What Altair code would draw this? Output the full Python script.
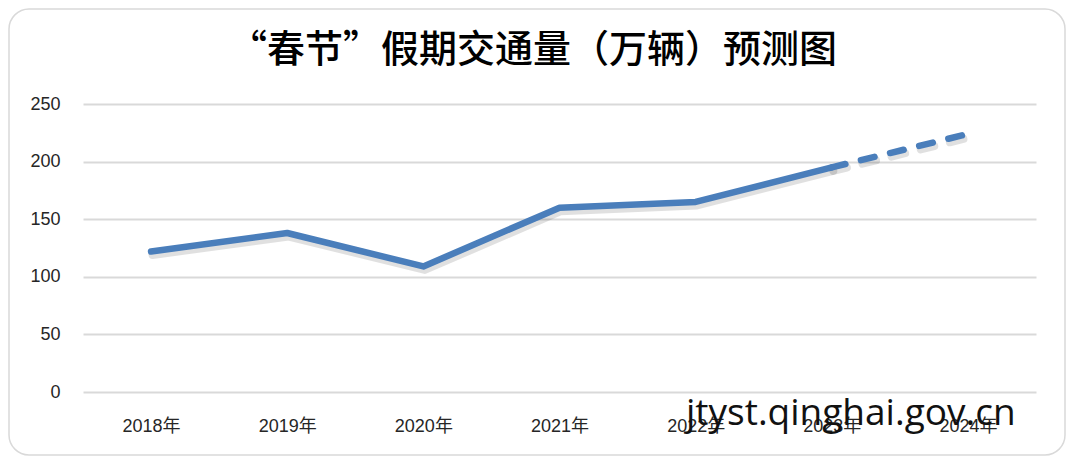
import altair as alt
import pandas as pd

years = ["2018年", "2019年", "2020年", "2021年", "2022年", "2023年", "2024年"]
volumes = [122, 138, 109, 160, 165, 195, 224]
y_ticks = [0, 50, 100, 150, 200, 250]
title_text = "“春节”假期交通量（万辆）预测图"
watermark = "jtyst.qinghai.gov.cn"

solid = pd.DataFrame({"year": years[:6], "v": volumes[:6]})
dashed = pd.DataFrame({"year": years[5:], "v": volumes[5:]})

x_enc = alt.X("year:N", sort=years, scale=alt.Scale(type="point", padding=0.5),
              axis=alt.Axis(title=None, labelAngle=0, domain=False, ticks=False, grid=False,
                            labelPadding=25, labelFontSize=18, labelColor="#262626",
                            labelFont="Liberation Sans, Noto Sans CJK SC"))
y_enc = alt.Y("v:Q", scale=alt.Scale(domain=[0, 250], nice=False),
              axis=alt.Axis(title=None, values=y_ticks, grid=True, gridColor="#d9d9d9",
                            gridWidth=2, domain=False, ticks=False, labelPadding=23,
                            labelFontSize=18, labelColor="#262626", labelFont="Liberation Sans"))

line_color = "#4a7ebb"

shadow_solid = alt.Chart(solid).mark_line(color="#000", opacity=0.12, strokeWidth=8,
                                          strokeCap="round", strokeJoin="round",
                                          xOffset=1.5, yOffset=3.5).encode(x=x_enc, y=y_enc)
shadow_dash = alt.Chart(dashed).mark_line(color="#000", opacity=0.12, strokeWidth=8,
                                          strokeCap="round", strokeDash=[14, 16],
                                          xOffset=1.5, yOffset=3.5).encode(x=x_enc, y=y_enc)
line_solid = alt.Chart(solid).mark_line(color=line_color, strokeWidth=6.5, strokeCap="round",
                                        strokeJoin="round").encode(x=x_enc, y=y_enc)
line_dash = alt.Chart(dashed).mark_line(color=line_color, strokeWidth=6.5, strokeCap="round",
                                        strokeDash=[14, 16]).encode(x=x_enc, y=y_enc)

one = pd.DataFrame({"t": [watermark], "title": [title_text]})
border = alt.Chart(one).mark_rect(fillOpacity=0, stroke="#d9d9d9", strokeWidth=1.5,
                                  cornerRadius=20).encode(
    x=alt.value(-74), x2=alt.value(982), y=alt.value(-95), y2=alt.value(351))
title = alt.Chart(one).mark_text(font="Noto Sans CJK SC", fontSize=38, fontWeight=500,
                                 color="#000", align="center", baseline="alphabetic").encode(
    text="title:N", x=alt.value(450), y=alt.value(-42))
wm = alt.Chart(one).mark_text(font="Open Sans", fontSize=37, color="#111", align="left",
                              baseline="alphabetic").encode(
    text="t:N", x=alt.value(603), y=alt.value(321))

chart = alt.layer(border, shadow_solid, shadow_dash, line_solid, line_dash, title, wm).properties(
    width=953, height=288,
    padding={"left": 75, "top": 96, "right": 30, "bottom": 64},
    autosize=alt.AutoSizeParams(type="none"),
).configure_view(strokeWidth=0)

chart.save("out.html", embed_options={"renderer": "svg", "actions": False})
